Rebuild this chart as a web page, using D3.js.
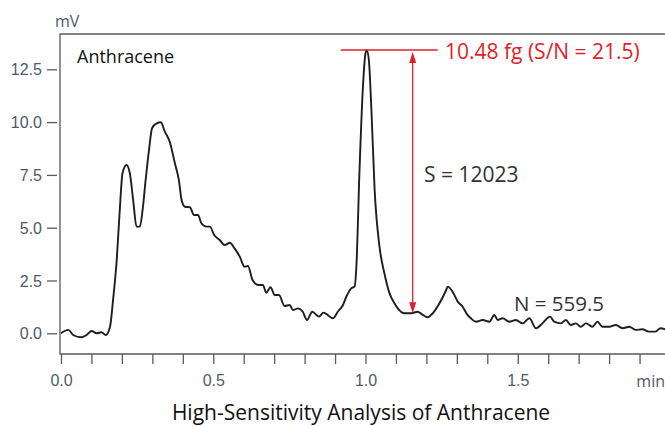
<!DOCTYPE html>
<html>
<head>
<meta charset="utf-8">
<script src="https://cdn.jsdelivr.net/npm/d3@7"></script>
<style>
  body { margin: 0; background: #fff; }
  svg { display: block; font-family: "Open Sans", "Noto Sans", sans-serif; }
</style>
</head>
<body>
<div id="chart"></div>
<script>
// retention time (min) and detector signal (mV)
const times = [0.000, 0.024, 0.040, 0.066, 0.084, 0.101, 0.117, 0.133, 0.147, 0.161,
  0.171, 0.183, 0.193, 0.202, 0.215, 0.226, 0.237, 0.248, 0.259, 0.268,
  0.278, 0.289, 0.299, 0.314, 0.328, 0.341, 0.357, 0.374, 0.387, 0.396,
  0.407, 0.423, 0.437, 0.450, 0.461, 0.478, 0.489, 0.503, 0.521, 0.538,
  0.554, 0.570, 0.587, 0.603, 0.614, 0.629, 0.647, 0.663, 0.674, 0.688,
  0.702, 0.716, 0.734, 0.751, 0.762, 0.778, 0.794, 0.808, 0.825, 0.847,
  0.862, 0.880, 0.893, 0.909, 0.926, 0.937, 0.953, 0.964, 0.970, 0.980,
  0.991, 1.000, 1.004, 1.011, 1.019, 1.030, 1.046, 1.062, 1.079, 1.095,
  1.106, 1.128, 1.150, 1.171, 1.188, 1.204, 1.221, 1.243, 1.265, 1.270,
  1.286, 1.303, 1.319, 1.335, 1.346, 1.363, 1.385, 1.407, 1.423, 1.434,
  1.450, 1.472, 1.494, 1.516, 1.538, 1.560, 1.581, 1.606, 1.620, 1.642,
  1.658, 1.674, 1.691, 1.707, 1.724, 1.745, 1.762, 1.778, 1.800, 1.822,
  1.844, 1.866, 1.887, 1.909, 1.930, 1.952, 1.969, 1.990];
const signal = [0.00, 0.16, -0.08, -0.19, -0.08, 0.11, 0.00, 0.05, -0.08, 0.31,
  1.58, 3.47, 5.84, 7.58, 7.97, 7.58, 6.31, 5.05, 5.05, 5.84,
  7.26, 8.68, 9.71, 9.94, 9.99, 9.55, 9.07, 8.05, 7.26, 6.31,
  5.99, 5.97, 5.60, 5.60, 5.21, 5.05, 5.05, 4.65, 4.42, 4.18,
  4.29, 4.02, 3.63, 3.15, 3.19, 2.52, 2.29, 2.29, 1.92, 2.18,
  1.81, 1.81, 1.29, 1.34, 1.10, 1.18, 1.02, 0.63, 1.02, 0.79,
  0.98, 0.82, 0.71, 1.02, 1.34, 1.73, 2.13, 2.21, 3.15, 7.58,
  11.52, 13.26, 13.41, 12.94, 10.73, 6.79, 4.10, 2.84, 1.89, 1.42,
  1.18, 0.95, 0.95, 1.02, 0.87, 0.76, 0.95, 1.42, 2.05, 2.21,
  1.97, 1.50, 1.26, 0.87, 0.71, 0.55, 0.63, 0.55, 0.87, 0.63,
  0.71, 0.55, 0.63, 0.47, 0.71, 0.24, 0.47, 0.79, 0.55, 0.47,
  0.63, 0.39, 0.47, 0.31, 0.47, 0.31, 0.55, 0.31, 0.31, 0.39,
  0.24, 0.31, 0.16, 0.19, 0.08, 0.08, 0.24, 0.16];

const yTicks = [0, 2.5, 5, 7.5, 10, 12.5];
const xMajorTicks = [0, 0.5, 1.0, 1.5];
const xMinorTicks = d3.range(0, 20).map(i => i / 10);

const peakTime = 1.004, peakHeight = 13.41, noiseBase = 0.95, arrowTime = 1.155;
const peakLabel = "10.48 fg (S/N = 21.5)";
const signalLabel = "S = 12023";
const noiseLabel = "N = 559.5";

const W = 665, H = 426;
const plot = { left: 60, top: 34, right: 665, bottom: 354 };
const labelColor = "#4d5a6a", red = "#e01f2a";

const svg = d3.select("#chart").append("svg")
    .attr("width", W).attr("height", H);

const x = d3.scaleLinear().domain([0, 2]).range([61, 670]);
const y = d3.scaleLinear().domain([0, 12.5]).range([333.3, 69.3]);

svg.append("defs").append("clipPath").attr("id", "clip")
  .append("rect").attr("x", plot.left).attr("y", plot.top)
  .attr("width", plot.right - plot.left).attr("height", plot.bottom - plot.top);

// frame: left, top, bottom
svg.append("path")
    .attr("d", `M${plot.right},${plot.top}H${plot.left}V${plot.bottom}H${plot.right}`)
    .attr("fill", "none").attr("stroke", "#5a5a5a").attr("stroke-width", 1.3);

// y axis (ticks sit just off the frame)
const yAxis = svg.append("g")
    .attr("transform", `translate(57,0)`)
    .call(d3.axisLeft(y).tickValues(yTicks).tickSize(10).tickPadding(5).tickFormat(d3.format(".1f")));
yAxis.select(".domain").remove();
yAxis.selectAll("line").attr("stroke", "#5a5a5a").attr("stroke-width", 1.3);
yAxis.selectAll("text").attr("fill", labelColor).style("font-size", "16px")
    .style("font-family", "inherit").attr("dy", "0.35em");

// x axis minor + major ticks
const xAxis = svg.append("g")
    .attr("transform", `translate(0,${plot.bottom})`)
    .call(d3.axisBottom(x).tickValues(xMinorTicks).tickSize(10)
        .tickPadding(11)
        .tickFormat(d => xMajorTicks.some(m => Math.abs(m - d) < 1e-6) ? d3.format(".1f")(d) : ""));
xAxis.select(".domain").remove();
xAxis.selectAll("line").attr("stroke", "#5a5a5a").attr("stroke-width", 1.3);
xAxis.selectAll("text").attr("fill", labelColor).style("font-size", "16px")
    .style("font-family", "inherit");

svg.append("text").attr("x", 55).attr("y", 27).attr("fill", labelColor)
    .style("font-size", "16px").text("mV");
svg.append("text").attr("x", 665).attr("y", 387).attr("text-anchor", "end")
    .attr("fill", labelColor).style("font-size", "16px").text("min");

// chromatogram
const line = d3.line().x((d, i) => x(times[i])).y(d => y(d)).curve(d3.curveMonotoneX);
svg.append("path")
    .datum(signal)
    .attr("clip-path", "url(#clip)")
    .attr("d", line)
    .attr("fill", "none")
    .attr("stroke", "#1e1e1e")
    .attr("stroke-width", 1.9)
    .attr("stroke-linejoin", "round");

svg.append("text").attr("x", 77).attr("y", 63).attr("fill", "#111")
    .style("font-size", "18px").text("Anthracene");

// S/N annotation
const yPeak = y(peakHeight), yBase = y(noiseBase), xa = x(arrowTime);
svg.append("line")
    .attr("x1", x(peakTime) - 26).attr("x2", x(peakTime) + 71)
    .attr("y1", yPeak).attr("y2", yPeak)
    .attr("stroke", red).attr("stroke-width", 1.5);
svg.append("line")
    .attr("x1", xa).attr("x2", xa).attr("y1", yPeak + 6).attr("y2", yBase - 6)
    .attr("stroke", red).attr("stroke-width", 1.3);
svg.append("path")
    .attr("d", `M${xa},${yPeak + 2}l-3.5,11h7z M${xa},${yBase}l-3.5,-11h7z`)
    .attr("fill", red);
svg.append("text").attr("x", 445).attr("y", yPeak + 9).attr("fill", red)
    .style("font-size", "21px").text(peakLabel);

svg.append("text").attr("x", 424).attr("y", 182).attr("fill", "#333")
    .style("font-size", "21px").text(signalLabel);
svg.append("text").attr("x", 514).attr("y", 311).attr("fill", "#333")
    .style("font-size", "20.5px").text(noiseLabel);

svg.append("text").attr("x", 361).attr("y", 420).attr("text-anchor", "middle")
    .attr("fill", "#111").style("font-size", "21px")
    .text("High-Sensitivity Analysis of Anthracene");
</script>
</body>
</html>
